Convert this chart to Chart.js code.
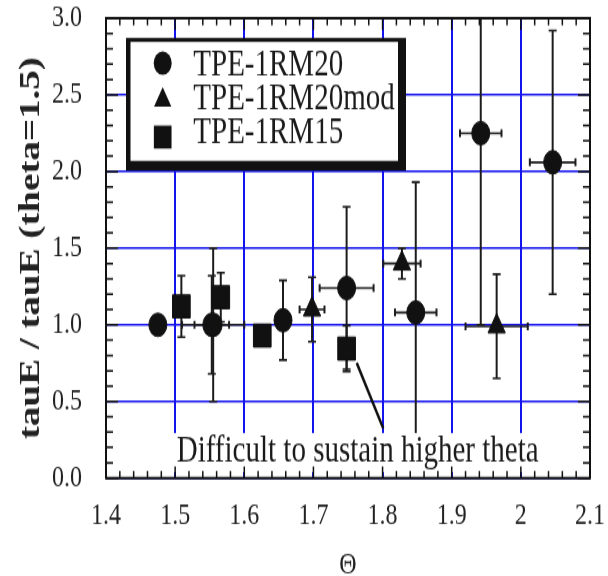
<!DOCTYPE html>
<html>
<head>
<meta charset="utf-8">
<script src="https://cdn.jsdelivr.net/npm/chart.js@4.4.1/dist/chart.umd.min.js"></script>
<style>
  html, body { margin: 0; padding: 0; background: #fff; width: 608px; height: 576px; overflow: hidden; }
  /* the original figure is stretched vertically, so the whole canvas is too */
  #wrap { width: 608px; height: 443px; transform: scale(1, 1.3002); transform-origin: 0 0; }
</style>
</head>
<body>
<div id="wrap"><canvas id="chart" width="608" height="443" style="width:608px;height:443px"></canvas></div>
<script>
// TPE-1RM20 (circles)
var rm20_theta = [1.475, 1.555, 1.553, 1.656, 1.748, 1.848, 1.942, 2.046];
var rm20_ratio = [1.00, 1.00, 1.00, 1.03, 1.24, 1.08, 2.25, 2.06];
var rm20_theta_err = [0, 0.045, 0.025, 0, 0.039, 0.030, 0.030, 0.033];
var rm20_ratio_err = [0.06, 0.50, 0.32, 0.26, 0.53, 0.85, 1.25, 0.86];

// TPE-1RM20mod (triangles)
var rm20mod_theta = [1.698, 1.828, 1.965];
var rm20mod_ratio = [1.10, 1.40, 0.99];
var rm20mod_theta_err = [0.018, 0.027, 0.045];
var rm20mod_ratio_err = [0.21, 0.10, 0.34];

// TPE-1RM15 (squares)
var rm15_theta = [1.509, 1.566, 1.626, 1.748];
var rm15_ratio = [1.12, 1.18, 0.93, 0.845];
var rm15_theta_err = [0, 0, 0, 0];
var rm15_ratio_err = [0.20, 0.16, 0, 0.15];

var xTickLabels = ['1.4', '1.5', '1.6', '1.7', '1.8', '1.9', '2', '2.1'];
var yTickLabels = ['0.0', '0.5', '1.0', '1.5', '2.0', '2.5', '3.0'];

// annotation (data coordinates)
var noteText = 'Difficult to sustain higher theta';
var noteAt = [1.764, 0.107];
var arrowFrom = [1.7626, 0.751];
var arrowTo = [1.801, 0.324];

var gridBlue = '#1414ee';
var ink = '#111';

function makePoints(xs, ys, xe, ye) {
    return xs.map(function (v, i) {
        return { x: v, y: ys[i], xErr: xe[i], yErr: ye[i] };
    });
}

function labelFor(list, value) {
    for (var i = 0; i < list.length; i++) {
        if (Math.abs(parseFloat(list[i]) - value) < 1e-6) return list[i];
    }
    return '';
}

// error bars, white label box, note and arrow, drawn under the markers
var errorBars = {
    id: 'errorBars',
    beforeDatasetsDraw: function (chart) {
        var ctx = chart.ctx, ca = chart.chartArea;
        var x = chart.scales.x, y = chart.scales.y;
        ctx.save();
        ctx.beginPath();
        ctx.rect(ca.left, ca.top, ca.right - ca.left, ca.bottom - ca.top);
        ctx.clip();
        ctx.strokeStyle = '#1c1c1c';
        chart.data.datasets.forEach(function (ds) {
            ds.data.forEach(function (p) {
                var px = x.getPixelForValue(p.x), py = y.getPixelForValue(p.y);
                if (p.yErr) {
                    var top = y.getPixelForValue(p.y + p.yErr), bot = y.getPixelForValue(p.y - p.yErr);
                    ctx.lineWidth = 2;
                    ctx.beginPath();
                    ctx.moveTo(px, top); ctx.lineTo(px, bot);
                    ctx.stroke();
                    ctx.lineWidth = 1.6;
                    ctx.beginPath();
                    ctx.moveTo(px - 4, top); ctx.lineTo(px + 4, top);
                    ctx.moveTo(px - 4, bot); ctx.lineTo(px + 4, bot);
                    ctx.stroke();
                }
                if (p.xErr) {
                    var l = x.getPixelForValue(p.x - p.xErr), r = x.getPixelForValue(p.x + p.xErr);
                    ctx.lineWidth = 1.6;
                    ctx.beginPath();
                    ctx.moveTo(l, py); ctx.lineTo(r, py);
                    ctx.stroke();
                    ctx.lineWidth = 2;
                    ctx.beginPath();
                    ctx.moveTo(l, py - 3); ctx.lineTo(l, py + 3);
                    ctx.moveTo(r, py - 3); ctx.lineTo(r, py + 3);
                    ctx.stroke();
                }
            });
        });

        // note text sits on a white box that hides the grid
        ctx.font = '29px "Liberation Serif"';
        var tx = x.getPixelForValue(noteAt[0]), ty = y.getPixelForValue(noteAt[1]);
        var w = ctx.measureText(noteText).width;
        ctx.fillStyle = '#fff';
        ctx.fillRect(tx - w / 2 - 5, ty - 22, w + 10, 30);
        ctx.fillStyle = '#1a1a1a';
        ctx.textAlign = 'center';
        ctx.textBaseline = 'alphabetic';
        ctx.fillText(noteText, tx, ty);

        ctx.strokeStyle = ink;
        ctx.lineWidth = 2.5;
        ctx.beginPath();
        ctx.moveTo(x.getPixelForValue(arrowFrom[0]), y.getPixelForValue(arrowFrom[1]));
        ctx.lineTo(x.getPixelForValue(arrowTo[0]), y.getPixelForValue(arrowTo[1]));
        ctx.stroke();
        ctx.restore();
    }
};

function drawMarker(ctx, style, r, cx, cy) {
    ctx.beginPath();
    if (style === 'circle') {
        ctx.arc(cx, cy, r, 0, Math.PI * 2);
    } else if (style === 'triangle') {
        ctx.moveTo(cx, cy - r);
        ctx.lineTo(cx + r * 0.866, cy + r * 0.5);
        ctx.lineTo(cx - r * 0.866, cy + r * 0.5);
        ctx.closePath();
    } else {
        var s = r * Math.SQRT1_2;
        ctx.rect(cx - s, cy - s, 2 * s, 2 * s);
    }
    ctx.fill();
}

// frame, inner tick marks and the boxed legend
var frameAndLegend = {
    id: 'frameAndLegend',
    afterDraw: function (chart) {
        var ctx = chart.ctx, ca = chart.chartArea;
        var x = chart.scales.x, y = chart.scales.y;
        ctx.save();

        // legend box with its heavy shadow
        var L = ca.left + 20, T = ca.top + 15.2;
        ctx.fillStyle = ink;
        ctx.fillRect(L, T, 280, 102);
        ctx.fillStyle = '#fff';
        ctx.fillRect(L + 4.5, T + 3, 267.5, 91.5);
        ctx.font = '29px "Liberation Serif"';
        ctx.textAlign = 'left';
        ctx.textBaseline = 'alphabetic';
        chart.data.datasets.forEach(function (ds, i) {
            ctx.fillStyle = ink;
            drawMarker(ctx, ds.pointStyle, ds.pointRadius, L + 36.7, T + 19.4 + i * 28.4);
            ctx.fillStyle = '#1a1a1a';
            ctx.fillText(ds.label, L + 67.3, T + 29.2 + i * 25.8);
        });

        // inner ticks, minor and major
        ctx.strokeStyle = ink;
        ctx.lineWidth = 1.5;
        ctx.beginPath();
        for (var i = 0; i <= 35; i++) {
            var px = x.getPixelForValue(1.4 + i * 0.02);
            var len = (i % 5 === 0) ? 9 : 5.4;
            ctx.moveTo(px, ca.bottom); ctx.lineTo(px, ca.bottom - len);
            ctx.moveTo(px, ca.top); ctx.lineTo(px, ca.top + len);
        }
        for (var j = 0; j <= 30; j++) {
            var py = y.getPixelForValue(j * 0.1);
            var len2 = (j % 5 === 0) ? 12 : 7;
            ctx.moveTo(ca.left, py); ctx.lineTo(ca.left + len2, py);
            ctx.moveTo(ca.right, py); ctx.lineTo(ca.right - len2, py);
        }
        ctx.stroke();

        ctx.lineWidth = 2;
        ctx.strokeRect(ca.left, ca.top, ca.right - ca.left, ca.bottom - ca.top);
        ctx.restore();
    }
};

var chart = new Chart(document.getElementById('chart').getContext('2d'), {
    type: 'scatter',
    data: {
        datasets: [{
            label: 'TPE-1RM20',
            data: makePoints(rm20_theta, rm20_ratio, rm20_theta_err, rm20_ratio_err),
            pointStyle: 'circle',
            pointRadius: 9,
            backgroundColor: ink,
            borderColor: ink,
            borderWidth: 1
        }, {
            label: 'TPE-1RM20mod',
            data: makePoints(rm20mod_theta, rm20mod_ratio, rm20mod_theta_err, rm20mod_ratio_err),
            pointStyle: 'triangle',
            pointRadius: 10,
            backgroundColor: ink,
            borderColor: ink,
            borderWidth: 1
        }, {
            label: 'TPE-1RM15',
            data: makePoints(rm15_theta, rm15_ratio, rm15_theta_err, rm15_ratio_err),
            pointStyle: 'rect',
            pointRadius: 12.5,
            backgroundColor: ink,
            borderColor: ink,
            borderWidth: 1
        }]
    },
    options: {
        responsive: false,
        animation: false,
        layout: { padding: { left: 8, right: 18, top: 14, bottom: 0 } },
        plugins: {
            legend: { display: false },
            tooltip: { enabled: false }
        },
        scales: {
            x: {
                type: 'linear',
                min: 1.4,
                max: 2.1,
                afterFit: function (scale) {
                    scale.height = 75.3;
                    scale.paddingLeft = 0;
                    scale.paddingRight = 0;
                },
                ticks: {
                    stepSize: 0.1,
                    autoSkip: false,
                    maxRotation: 0,
                    padding: 15,
                    color: '#222',
                    font: { family: 'Liberation Serif', size: 24, lineHeight: 1.2 },
                    callback: function (v) { return labelFor(xTickLabels, v); }
                },
                grid: { color: gridBlue, lineWidth: 2, drawTicks: false },
                border: { display: false },
                title: {
                    display: true,
                    text: 'Θ',
                    color: '#222',
                    font: { family: 'Liberation Serif', size: 24, lineHeight: 0.7 },
                    padding: { top: 14.7, bottom: 0 }
                }
            },
            y: {
                min: 0,
                max: 3,
                afterFit: function (scale) {
                    scale.width = 98;
                    scale.paddingTop = 0;
                    scale.paddingBottom = 0;
                },
                ticks: {
                    stepSize: 0.5,
                    padding: 24,
                    color: '#222',
                    font: { family: 'Liberation Serif', size: 24, lineHeight: 1.0 },
                    callback: function (v) { return labelFor(yTickLabels, v); }
                },
                grid: { color: gridBlue, lineWidth: 1.5, drawTicks: false },
                border: { display: false },
                title: {
                    display: true,
                    text: 'tauE / tauE (theta=1.5)',
                    color: '#222',
                    font: { family: 'Liberation Serif', size: 30, weight: 'bold', lineHeight: 1.2 },
                    padding: { top: 5, bottom: 10 }
                }
            }
        }
    },
    plugins: [errorBars, frameAndLegend]
});
</script>
</body>
</html>
